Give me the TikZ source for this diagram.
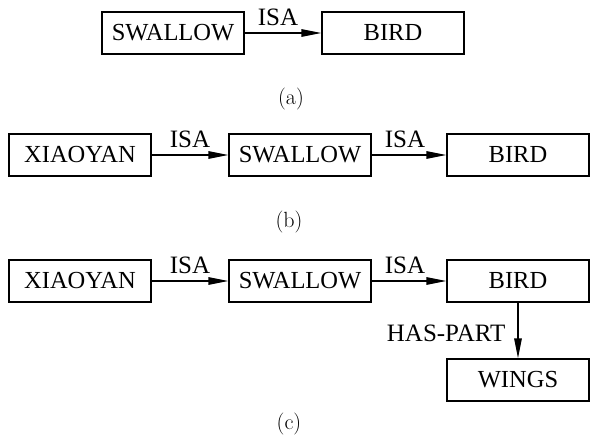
\documentclass[tikz,border=0pt]{standalone}
\usepackage{fontspec}
\newfontfamily\conceptfont{Liberation Serif}
\usetikzlibrary{arrows.meta}

\tikzset{
  concept/.style={draw, line width=1.3pt, minimum width=142pt, minimum height=42pt,
    inner sep=0pt, font=\conceptfont\fontsize{24.5}{29}\selectfont},
  relation/.style={draw, line width=1.3pt, -{Triangle[length=20pt,width=7.5pt]}},
  rellabel/.style={inner sep=0pt, font=\conceptfont\fontsize{25}{30}\selectfont},
  subcap/.style={inner sep=0pt, font=\fontsize{22}{26}\selectfont}
}

\begin{document}
\begin{tikzpicture}[x=1pt,y=-1pt]
  \useasboundingbox (0,0) rectangle (590,439);

  % (a) a single ISA link
  \node[concept] (aS) at (173,33) {SWALLOW};
  \node[concept] (aB) at (393,33) {BIRD};
  \draw[relation] (aS) -- node[rellabel, anchor=base, yshift=8pt, xshift=-5pt] (aL) {ISA} (aB);
  \node[subcap] (capA) at (291,99) {(a)};

  % (b) a chain of two ISA links
  \node[concept] (bX) at (80,155) {XIAOYAN};
  \node[concept] (bS) at (300,155) {SWALLOW};
  \node[concept] (bB) at (518,155) {BIRD};
  \draw[relation] (bX) -- node[rellabel, anchor=base, yshift=8pt] (bL1) {ISA} (bS);
  \draw[relation] (bS) -- node[rellabel, anchor=base, yshift=8pt, xshift=-4pt] (bL2) {ISA} (bB);
  \node[subcap] (capB) at (289,222) {(b)};

  % (c) the chain plus a HAS-PART link
  \node[concept] (cX) at (80,281) {XIAOYAN};
  \node[concept] (cS) at (300,281) {SWALLOW};
  \node[concept] (cB) at (518,281) {BIRD};
  \node[concept] (cW) at (518,380) {WINGS};
  \draw[relation] (cX) -- node[rellabel, anchor=base, yshift=8pt] (cL1) {ISA} (cS);
  \draw[relation] (cS) -- node[rellabel, anchor=base, yshift=8pt, xshift=-4pt] (cL2) {ISA} (cB);
  \draw[relation] (cB) -- node[rellabel, anchor=east, xshift=-12pt, yshift=-3pt] (cL3) {HAS-PART} (cW);
  \node[subcap] (capC) at (289,424) {(c)};
\end{tikzpicture}
\end{document}
